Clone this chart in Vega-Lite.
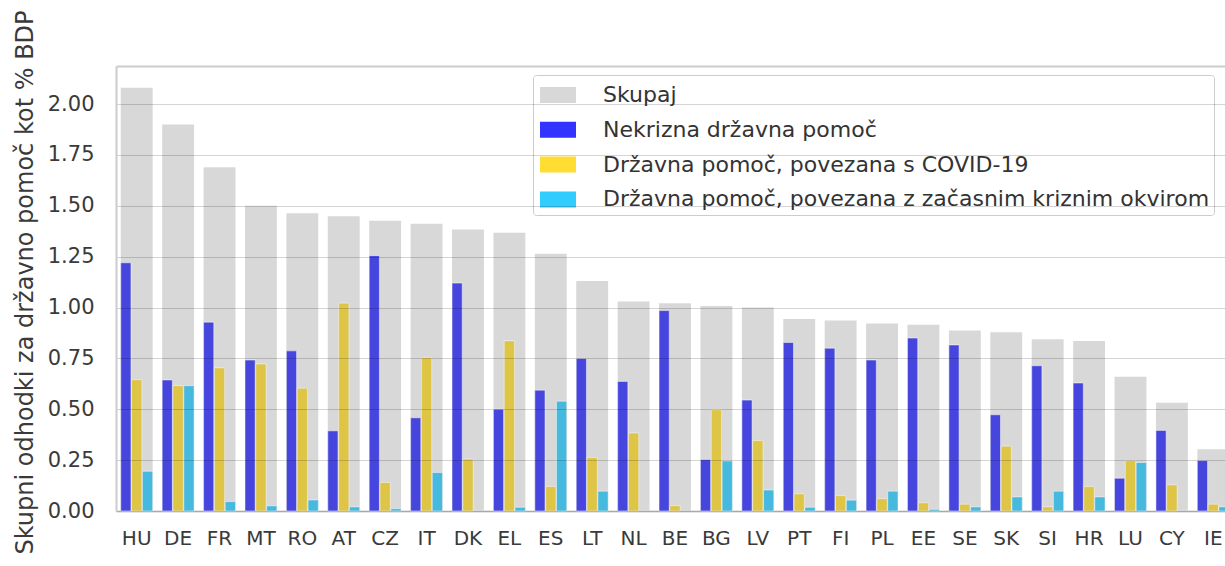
{
  "$schema": "https://vega.github.io/schema/vega-lite/v6.json",
  "width": 1109,
  "height": 445,
  "autosize": {"type": "none"},
  "padding": {"left": 116, "top": 66, "right": 0, "bottom": 55},
  "background": "white",
  "config": {
    "view": {"stroke": null},
    "font": "DejaVu Sans",
    "legend": {
      "orient": "none", "legendX": 417, "legendY": 9,
      "title": null,
      "symbolType": "M-1.125,-0.5H1.125V0.5H-1.125Z",
      "symbolSize": 1024,
      "symbolStrokeWidth": 0,
      "symbolOpacity": 1,
      "symbolOffset": 5,
      "labelFontSize": 22, "labelFont": "DejaVu Sans", "labelColor": "#333333",
      "labelOffset": 29, "labelLimit": 0,
      "rowPadding": 7.8, "padding": 4,
      "strokeColor": "#cccccc", "fillColor": "white", "cornerRadius": 3
    }
  },
  "data": {"values": [
    {"c":"HU","Skupaj":2.08,"Nekrizna državna pomoč":1.22,"Državna pomoč, povezana s COVID-19":0.645,"Državna pomoč, povezana z začasnim kriznim okvirom":0.195},
    {"c":"DE","Skupaj":1.90,"Nekrizna državna pomoč":0.644,"Državna pomoč, povezana s COVID-19":0.616,"Državna pomoč, povezana z začasnim kriznim okvirom":0.616},
    {"c":"FR","Skupaj":1.69,"Nekrizna državna pomoč":0.928,"Državna pomoč, povezana s COVID-19":0.703,"Državna pomoč, povezana z začasnim kriznim okvirom":0.046},
    {"c":"MT","Skupaj":1.50,"Nekrizna državna pomoč":0.742,"Državna pomoč, povezana s COVID-19":0.722,"Državna pomoč, povezana z začasnim kriznim okvirom":0.025},
    {"c":"RO","Skupaj":1.463,"Nekrizna državna pomoč":0.787,"Državna pomoč, povezana s COVID-19":0.603,"Državna pomoč, povezana z začasnim kriznim okvirom":0.054},
    {"c":"AT","Skupaj":1.448,"Nekrizna državna pomoč":0.394,"Državna pomoč, povezana s COVID-19":1.021,"Državna pomoč, povezana z začasnim kriznim okvirom":0.02},
    {"c":"CZ","Skupaj":1.427,"Nekrizna državna pomoč":1.255,"Državna pomoč, povezana s COVID-19":0.14,"Državna pomoč, povezana z začasnim kriznim okvirom":0.011},
    {"c":"IT","Skupaj":1.412,"Nekrizna državna pomoč":0.458,"Državna pomoč, povezana s COVID-19":0.754,"Državna pomoč, povezana z začasnim kriznim okvirom":0.189},
    {"c":"DK","Skupaj":1.383,"Nekrizna državna pomoč":1.12,"Državna pomoč, povezana s COVID-19":0.255,"Državna pomoč, povezana z začasnim kriznim okvirom":0},
    {"c":"EL","Skupaj":1.368,"Nekrizna državna pomoč":0.50,"Državna pomoč, povezana s COVID-19":0.836,"Državna pomoč, povezana z začasnim kriznim okvirom":0.018},
    {"c":"ES","Skupaj":1.264,"Nekrizna državna pomoč":0.594,"Državna pomoč, povezana s COVID-19":0.12,"Državna pomoč, povezana z začasnim kriznim okvirom":0.539},
    {"c":"LT","Skupaj":1.13,"Nekrizna državna pomoč":0.75,"Državna pomoč, povezana s COVID-19":0.263,"Državna pomoč, povezana z začasnim kriznim okvirom":0.097},
    {"c":"NL","Skupaj":1.03,"Nekrizna državna pomoč":0.637,"Državna pomoč, povezana s COVID-19":0.383,"Državna pomoč, povezana z začasnim kriznim okvirom":0},
    {"c":"BE","Skupaj":1.021,"Nekrizna državna pomoč":0.985,"Državna pomoč, povezana s COVID-19":0.026,"Državna pomoč, povezana z začasnim kriznim okvirom":0},
    {"c":"BG","Skupaj":1.008,"Nekrizna državna pomoč":0.253,"Državna pomoč, povezana s COVID-19":0.498,"Državna pomoč, povezana z začasnim kriznim okvirom":0.246},
    {"c":"LV","Skupaj":1.00,"Nekrizna državna pomoč":0.545,"Državna pomoč, povezana s COVID-19":0.346,"Državna pomoč, povezana z začasnim kriznim okvirom":0.103},
    {"c":"PT","Skupaj":0.944,"Nekrizna državna pomoč":0.828,"Državna pomoč, povezana s COVID-19":0.084,"Državna pomoč, povezana z začasnim kriznim okvirom":0.018},
    {"c":"FI","Skupaj":0.936,"Nekrizna državna pomoč":0.80,"Državna pomoč, povezana s COVID-19":0.075,"Državna pomoč, povezana z začasnim kriznim okvirom":0.053},
    {"c":"PL","Skupaj":0.921,"Nekrizna državna pomoč":0.742,"Državna pomoč, povezana s COVID-19":0.06,"Državna pomoč, povezana z začasnim kriznim okvirom":0.097},
    {"c":"EE","Skupaj":0.915,"Nekrizna državna pomoč":0.85,"Državna pomoč, povezana s COVID-19":0.04,"Državna pomoč, povezana z začasnim kriznim okvirom":0.008},
    {"c":"SE","Skupaj":0.887,"Nekrizna državna pomoč":0.816,"Državna pomoč, povezana s COVID-19":0.033,"Državna pomoč, povezana z začasnim kriznim okvirom":0.02},
    {"c":"SK","Skupaj":0.878,"Nekrizna državna pomoč":0.473,"Državna pomoč, povezana s COVID-19":0.318,"Državna pomoč, povezana z začasnim kriznim okvirom":0.069},
    {"c":"SI","Skupaj":0.844,"Nekrizna državna pomoč":0.714,"Državna pomoč, povezana s COVID-19":0.02,"Državna pomoč, povezana z začasnim kriznim okvirom":0.097},
    {"c":"HR","Skupaj":0.836,"Nekrizna državna pomoč":0.629,"Državna pomoč, povezana s COVID-19":0.12,"Državna pomoč, povezana z začasnim kriznim okvirom":0.069},
    {"c":"LU","Skupaj":0.66,"Nekrizna državna pomoč":0.161,"Državna pomoč, povezana s COVID-19":0.248,"Državna pomoč, povezana z začasnim kriznim okvirom":0.238},
    {"c":"CY","Skupaj":0.532,"Nekrizna državna pomoč":0.396,"Državna pomoč, povezana s COVID-19":0.128,"Državna pomoč, povezana z začasnim kriznim okvirom":0},
    {"c":"IE","Skupaj":0.304,"Nekrizna državna pomoč":0.248,"Državna pomoč, povezana s COVID-19":0.033,"Državna pomoč, povezana z začasnim kriznim okvirom":0.02}
  ]},
  "transform": [
    {"fold": ["Skupaj", "Nekrizna državna pomoč", "Državna pomoč, povezana s COVID-19", "Državna pomoč, povezana z začasnim kriznim okvirom"], "as": ["key", "value"]},
    {"filter": "datum.value > 0"}
  ],
  "encoding": {
    "x": {
      "field": "c", "type": "nominal", "sort": null,
      "scale": {"paddingInner": 0.23, "paddingOuter": 0.115, "range": [0, 1118]},
      "axis": {"title": null, "orient": "bottom", "labelAngle": 0, "labelFontSize": 20, "labelFont": "DejaVu Sans", "labelColor": "#3a3a3a", "ticks": false, "labelPadding": 17, "domainColor": "#cccccc", "domainWidth": 2, "grid": false}
    },
    "y": {
      "field": "value", "type": "quantitative",
      "scale": {"domain": [0, 2.187], "nice": false, "zero": true},
      "axis": {
        "title": "Skupni odhodki za državno pomoč kot % BDP",
        "values": [0, 0.25, 0.5, 0.75, 1, 1.25, 1.5, 1.75, 2],
        "format": ".2f", "zindex": 1,
        "grid": true, "gridColor": "#000000", "gridOpacity": 0.17, "gridWidth": 1,
        "domainColor": "#cccccc", "domainWidth": 2,
        "ticks": false, "labelPadding": 22,
        "labelFontSize": 21, "labelFont": "DejaVu Sans", "labelColor": "#3a3a3a",
        "titleFontSize": 24, "titleFont": "DejaVu Sans", "titleFontWeight": "normal", "titleColor": "#3a3a3a",
        "titlePadding": 10, "titleY": 216
      }
    },
    "color": {
      "field": "key", "type": "nominal",
      "scale": {
        "domain": ["Skupaj", "Nekrizna državna pomoč", "Državna pomoč, povezana s COVID-19", "Državna pomoč, povezana z začasnim kriznim okvirom"],
        "range": ["#d8d8d8", "#3333ff", "#ffdd33", "#33ccff"]
      }
    }
  },
  "resolve": {"axis": {"x": "independent"}},
  "layer": [
    {
      "transform": [{"filter": "datum.key === 'Skupaj'"}],
      "mark": {"type": "bar", "opacity": 1}
    },
    {
      "transform": [{"filter": "datum.key !== 'Skupaj'"}],
      "mark": {"type": "bar", "stroke": "white", "strokeWidth": 1, "strokeOpacity": 0.6},
      "encoding": {
        "x": {
          "field": "c", "type": "nominal", "sort": null,
          "scale": {"paddingInner": 0.23, "paddingOuter": 0.115, "range": [0, 1118]},
          "axis": {"title": null, "orient": "top", "labels": false, "ticks": false, "grid": false, "domainColor": "#cccccc", "domainWidth": 2}
        },
        "xOffset": {
          "field": "key", "type": "nominal",
          "scale": {"domain": ["Nekrizna državna pomoč", "Državna pomoč, povezana s COVID-19", "Državna pomoč, povezana z začasnim kriznim okvirom"], "paddingInner": 0.06, "paddingOuter": 0}
        }
      }
    },
    {
      "transform": [{"filter": "datum.key !== 'Skupaj'"}],
      "mark": {"type": "bar", "opacity": 0.25},
      "encoding": {
        "x": {
          "field": "c", "type": "nominal", "sort": null,
          "scale": {"paddingInner": 0.23, "paddingOuter": 0.115, "range": [0, 1118]},
          "axis": null
        },
        "xOffset": {
          "field": "key", "type": "nominal",
          "scale": {"domain": ["Nekrizna državna pomoč", "Državna pomoč, povezana s COVID-19", "Državna pomoč, povezana z začasnim kriznim okvirom"], "paddingInner": 0.06, "paddingOuter": 0}
        },
        "color": {"value": "#808080"}
      }
    }
  ]
}
